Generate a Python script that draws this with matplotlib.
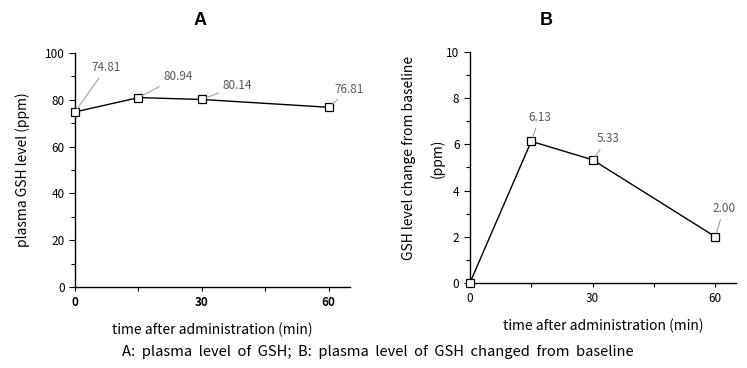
import matplotlib
matplotlib.use('Agg')
import matplotlib.pyplot as plt
from matplotlib.ticker import MultipleLocator

plt.rcParams['font.family'] = ['Noto Sans CJK KR', 'DejaVu Sans']

# datos
tiempos = [0, 15, 30, 60]
gsh_plasma = [74.81, 80.94, 80.14, 76.81]
gsh_cambio = [0.0, 6.13, 5.33, 2.00]
etiquetas_a = ['74.81', '80.94', '80.14', '76.81']
etiquetas_b = [None, '6.13', '5.33', '2.00']
ticks_x = [0, 30, 60]

# desplazamientos de las etiquetas (puntos) y alineacion
desp_a = [(12, 32, 'left'), (18, 15, 'left'), (15, 10, 'left'), (4, 13, 'left')]
desp_b = [None, (6, 17, 'center'), (11, 15, 'center'), (6, 20, 'center')]

gris_texto = '#595959'
gris_linea = '#a6a6a6'

fig = plt.figure(figsize=(7.47, 3.68), dpi=100)
ax_a = fig.add_axes([0.1004, 0.220, 0.368, 0.636])
ax_b = fig.add_axes([0.629, 0.231, 0.356, 0.628])


def dibujar(ax, y, etiquetas, desps, ymax, paso, negrita_x):
    ax.plot(tiempos, y, color='black', lw=1.0, marker='s', ms=5.5,
            mfc='white', mec='black', mew=0.9, clip_on=False, zorder=3)
    for t, v, lab, d in zip(tiempos, y, etiquetas, desps):
        if lab is None:
            continue
        ax.annotate(lab, (t, v), xytext=d[:2], textcoords='offset points',
                    fontsize=8.5, color=gris_texto, ha=d[2], va='center',
                    arrowprops=dict(arrowstyle='-', color=gris_linea, lw=0.8,
                                    shrinkA=1, shrinkB=3))
    ax.set_xlim(0, 65)
    ax.set_ylim(0, ymax)
    ax.set_xticks(ticks_x)
    ax.xaxis.set_minor_locator(MultipleLocator(15))
    ax.yaxis.set_major_locator(MultipleLocator(paso))
    ax.yaxis.set_minor_locator(MultipleLocator(paso / 2))
    for s in ['top', 'right']:
        ax.spines[s].set_visible(False)
    for s in ['left', 'bottom']:
        ax.spines[s].set_linewidth(1.0)
    ax.tick_params(which='major', length=4, width=0.8, labelsize=8.5, direction='out')
    ax.tick_params(which='minor', length=3, width=0.8, direction='out')
    ax.tick_params(axis='x', which='both', length=3)
    if negrita_x:
        for t in ax.get_xticklabels():
            t.set_fontweight('bold')
    ax.set_xlabel('time after administration (min)', fontsize=10, labelpad=10)


dibujar(ax_a, gsh_plasma, etiquetas_a, desp_a, 100, 20, True)
dibujar(ax_b, gsh_cambio, etiquetas_b, desp_b, 10, 2, False)

ax_a.set_ylabel('plasma GSH level (ppm)', fontsize=10)
ax_a.yaxis.set_label_coords(-0.164, 0.5)
ax_b.set_ylabel('GSH level change from baseline\n(ppm)', fontsize=10, linespacing=2.2)
ax_b.yaxis.set_label_coords(-0.094, 0.54)

fig.text(200 / 747, 0.945, 'A', fontsize=13, fontweight='bold', ha='center', va='center',
         family=['Liberation Sans', 'DejaVu Sans'])
fig.text(546 / 747, 0.945, 'B', fontsize=13, fontweight='bold', ha='center', va='center',
         family=['Liberation Sans', 'DejaVu Sans'])
fig.text(378 / 747, 0.043,
         'A:  plasma  level  of  GSH;  B:  plasma  level  of  GSH  changed  from  baseline',
         fontsize=10.6, ha='center', va='center')

fig.savefig('out.png', dpi=100)
